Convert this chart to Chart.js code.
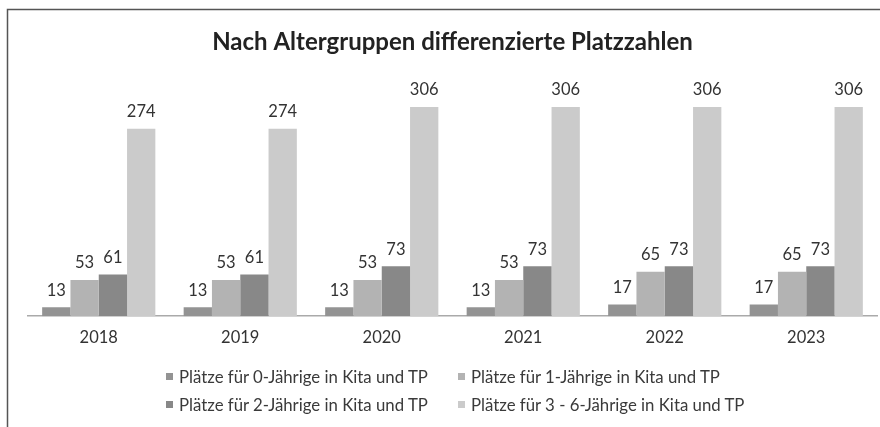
<!DOCTYPE html>
<html>
<head>
<meta charset="utf-8">
<script src="https://cdn.jsdelivr.net/npm/chart.js@4"></script>
<style>
  body { margin: 0; background: #fff; }
  #wrap { position: relative; width: 880px; height: 427px; }
  #legend { position: absolute; left: 0; top: 0; font-family: Lato, sans-serif; font-size: 16.8px; color: #3a3a3a; }
  .item { position: absolute; white-space: nowrap; display: flex; align-items: center; height: 20px; }
  .box { width: 7px; height: 7px; margin-right: 6px; }
</style>
</head>
<body>
<div id="wrap">
  <canvas id="chart" width="880" height="427"></canvas>
  <div id="legend"></div>
</div>
<script>
// Platzzahlen nach Altersgruppen
const years = ['2018', '2019', '2020', '2021', '2022', '2023'];
const seriesNames = [
    'Plätze für 0-Jährige in Kita und TP',
    'Plätze für 1-Jährige in Kita und TP',
    'Plätze für 2-Jährige in Kita und TP',
    'Plätze für 3 - 6-Jährige in Kita und TP'
];
const age0 = [13, 13, 13, 13, 17, 17];
const age1 = [53, 53, 53, 53, 65, 65];
const age2 = [61, 61, 73, 73, 73, 73];
const age3to6 = [274, 274, 306, 306, 306, 306];
const colors = ['#939393', '#b3b3b3', '#888888', '#cbcbcb'];

// value labels above each bar
const valueLabels = {
    id: 'valueLabels',
    afterDatasetsDraw(chart) {
        const ctx = chart.ctx;
        ctx.save();
        ctx.font = '16.5px Lato';
        ctx.fillStyle = '#333';
        ctx.textAlign = 'center';
        ctx.textBaseline = 'middle';
        chart.data.datasets.forEach((ds, i) => {
            chart.getDatasetMeta(i).data.forEach((bar, j) => {
                ctx.fillText(ds.data[j], bar.x, bar.y - 17);
            });
        });
        ctx.restore();
    }
};

// scanned frame: top and left border
const frame = {
    id: 'frame',
    beforeDraw(chart) {
        const ctx = chart.ctx;
        ctx.save();
        ctx.strokeStyle = '#555';
        ctx.lineWidth = 1.5;
        ctx.beginPath();
        ctx.moveTo(7.5, 427);
        ctx.lineTo(7.5, 9.5);
        ctx.lineTo(880, 9.5);
        ctx.stroke();
        ctx.restore();
    }
};

const ctx = document.getElementById('chart').getContext('2d');
const chart = new Chart(ctx, {
    type: 'bar',
    data: {
        labels: years,
        datasets: [age0, age1, age2, age3to6].map((d, i) => ({
            label: seriesNames[i],
            data: d,
            backgroundColor: colors[i],
            borderWidth: 0,
            categoryPercentage: 0.8,
            barPercentage: 1.0
        }))
    },
    options: {
        responsive: false,
        animation: false,
        layout: { padding: { left: 28, right: 3, bottom: 75, top: 0 } },
        plugins: {
            legend: { display: false },
            tooltip: { enabled: false },
            title: {
                display: true,
                text: 'Nach Altergruppen differenzierte Platzzahlen',
                color: '#222',
                font: { family: 'Lato', size: 24, weight: 'bold' },
                padding: { top: 28, bottom: 20 }
            }
        },
        scales: {
            x: {
                grid: { display: false },
                border: { color: '#aaa', width: 1.5 },
                ticks: { color: '#333', font: { family: 'Lato', size: 16.5 }, padding: 4 }
            },
            y: {
                display: false,
                min: 0,
                max: 350
            }
        }
    },
    plugins: [valueLabels, frame]
});

// legend in two columns, like the original
const legend = document.getElementById('legend');
const legendPos = [[166, 376], [458, 376], [166, 404], [458, 404]];
seriesNames.forEach((name, i) => {
    const el = document.createElement('div');
    el.className = 'item';
    el.style.left = legendPos[i][0] + 'px';
    el.style.top = (legendPos[i][1] - 10) + 'px';
    el.innerHTML = '<span class="box" style="background:' + colors[i] + '"></span>' + name;
    legend.appendChild(el);
});
</script>
</body>
</html>
